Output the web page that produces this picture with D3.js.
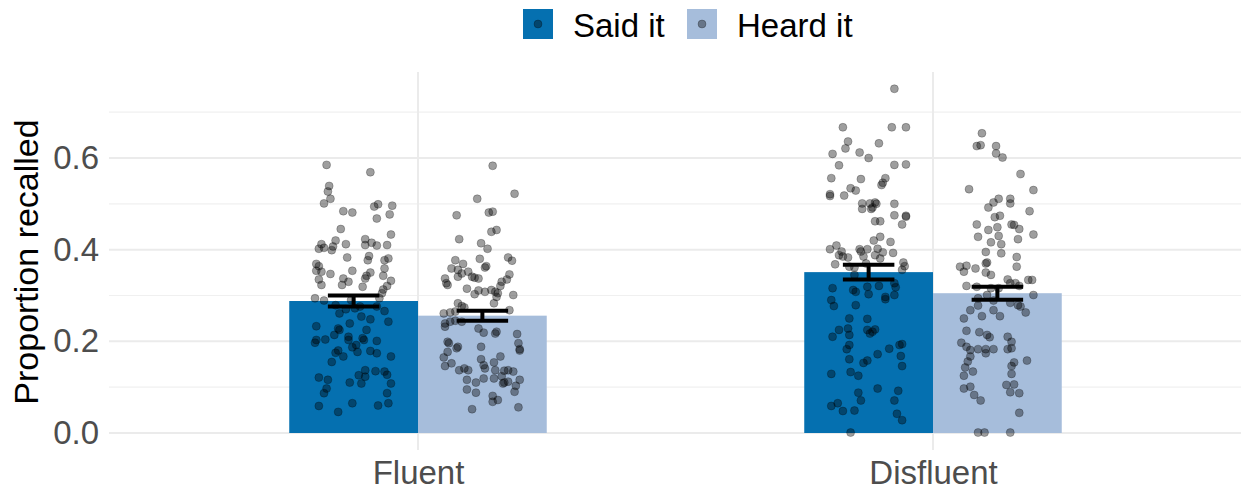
<!DOCTYPE html>
<html>
<head>
<meta charset="utf-8">
<script src="https://cdn.jsdelivr.net/npm/d3@7"></script>
<style>
  body { margin: 0; background: #fff; }
  text { font-family: "Liberation Sans", Arial, sans-serif; }
</style>
</head>
<body>
<div id="chart"></div>
<script>
// categories / groups
const conditions = ["Fluent", "Disfluent"]
const sources = ["Said it", "Heard it"]
const colors = ["#0570b0", "#a6bddb"]

// bar means and standard errors, per condition
const meanSaid = [0.288, 0.351]
const meanHeard = [0.256, 0.305]
const seSaid = [0.012, 0.016]
const seHeard = [0.011, 0.014]

// y ticks
const yTicks = [0, 0.2, 0.4, 0.6]
const yMinor = [0.1, 0.3, 0.5, 0.7]

// participant points: [proportion, jitter (fraction of bar width)]
const fluentSaid = [[0.585,-0.21],[0.569,0.13],[0.539,-0.19],[0.527,-0.20],[0.511,-0.18],[0.501,-0.23],[0.499,0.19],[0.494,0.16],[0.496,0.30],[0.484,-0.08],[0.481,-0.01],[0.477,0.28],[0.468,0.18],[0.445,-0.10],[0.433,0.29],[0.412,-0.25],[0.423,0.09],[0.415,0.14],[0.420,-0.14],[0.412,-0.06],[0.402,-0.27],[0.404,-0.23],[0.399,-0.17],[0.407,-0.16],[0.410,0.09],[0.409,0.18],[0.410,0.26],[0.383,-0.05],[0.386,0.12],[0.377,0.11],[0.377,0.24],[0.381,0.27],[0.369,-0.29],[0.364,-0.27],[0.354,-0.29],[0.352,-0.25],[0.347,-0.18],[0.354,-0.01],[0.350,0.13],[0.359,0.24],[0.343,0.23],[0.337,-0.08],[0.330,-0.04],[0.323,-0.09],[0.337,0.09],[0.343,0.10],[0.332,0.29],[0.335,-0.27],[0.323,-0.25],[0.319,0.07],[0.321,0.26],[0.313,0.23],[0.294,-0.30],[0.289,-0.23],[0.290,-0.02],[0.294,0.20],[0.305,0.22],[0.279,-0.14],[0.261,-0.11],[0.270,-0.06],[0.272,0.01],[0.276,0.05],[0.276,0.18],[0.266,0.24],[0.254,0.06],[0.248,0.13],[0.243,0.27],[0.239,-0.03],[0.233,-0.29],[0.228,-0.12],[0.225,-0.11],[0.214,-0.15],[0.225,0.10],[0.210,-0.04],[0.207,0.07],[0.203,0.08],[0.201,0.18],[0.203,-0.29],[0.204,-0.22],[0.197,-0.30],[0.192,0.02],[0.187,-0.01],[0.203,-0.04],[0.175,-0.14],[0.180,-0.12],[0.167,-0.08],[0.177,0.03],[0.179,0.13],[0.174,0.18],[0.167,0.29],[0.155,-0.17],[0.137,0.09],[0.135,0.17],[0.134,0.24],[0.127,0.26],[0.121,-0.27],[0.116,-0.20],[0.110,-0.03],[0.126,0.04],[0.108,0.06],[0.123,0.09],[0.108,0.29],[0.097,-0.21],[0.087,-0.23],[0.087,0.26],[0.059,-0.27],[0.046,-0.12],[0.065,-0.01],[0.060,0.19],[0.065,0.27]]

const fluentHeard = [[0.583,0.08],[0.522,0.25],[0.511,-0.04],[0.475,-0.20],[0.481,0.05],[0.483,0.08],[0.439,0.07],[0.443,0.11],[0.423,-0.18],[0.414,-0.01],[0.402,0.04],[0.377,-0.21],[0.369,-0.15],[0.359,-0.24],[0.356,-0.19],[0.348,-0.16],[0.352,-0.11],[0.380,-0.02],[0.364,0.03],[0.361,0.02],[0.383,0.20],[0.376,0.23],[0.341,-0.19],[0.341,-0.08],[0.339,-0.06],[0.337,-0.03],[0.337,-0.29],[0.327,-0.28],[0.323,-0.27],[0.346,0.21],[0.335,0.19],[0.330,0.15],[0.321,0.14],[0.315,-0.12],[0.303,-0.06],[0.311,-0.03],[0.308,0.02],[0.312,0.07],[0.308,0.10],[0.305,0.12],[0.297,0.11],[0.283,0.09],[0.301,0.24],[0.283,-0.19],[0.277,-0.16],[0.274,-0.14],[0.263,-0.25],[0.265,-0.21],[0.261,-0.30],[0.268,0.21],[0.243,-0.25],[0.245,-0.21],[0.239,-0.29],[0.232,-0.29],[0.243,-0.16],[0.228,-0.03],[0.219,0.01],[0.221,0.11],[0.217,0.10],[0.216,0.27],[0.199,-0.27],[0.196,-0.26],[0.188,-0.19],[0.185,-0.20],[0.188,-0.01],[0.196,0.28],[0.183,0.29],[0.180,0.29],[0.177,-0.27],[0.165,-0.30],[0.152,-0.24],[0.146,-0.29],[0.167,0.14],[0.161,-0.01],[0.148,0.01],[0.141,0.02],[0.154,0.09],[0.141,-0.14],[0.137,-0.18],[0.137,-0.11],[0.137,0.10],[0.136,0.17],[0.137,0.20],[0.134,0.24],[0.116,-0.12],[0.110,-0.05],[0.119,0.01],[0.119,0.09],[0.124,0.15],[0.108,0.16],[0.110,0.17],[0.112,0.20],[0.116,0.29],[0.103,0.26],[0.095,-0.12],[0.088,-0.05],[0.090,0.25],[0.081,0.08],[0.068,0.08],[0.072,0.12],[0.052,-0.08],[0.056,0.28]]

const disfluentSaid = [[0.751,0.20],[0.667,-0.20],[0.667,0.18],[0.667,0.29],[0.636,-0.16],[0.621,-0.18],[0.632,0.08],[0.609,-0.28],[0.612,-0.07],[0.600,0.00],[0.584,-0.23],[0.585,0.20],[0.586,0.29],[0.556,-0.29],[0.554,-0.06],[0.556,0.13],[0.546,0.11],[0.541,0.10],[0.534,-0.14],[0.529,-0.10],[0.521,-0.30],[0.517,-0.30],[0.518,-0.19],[0.501,-0.05],[0.501,0.01],[0.503,0.05],[0.500,0.06],[0.500,0.20],[0.489,-0.05],[0.489,0.02],[0.492,0.03],[0.475,0.20],[0.474,0.29],[0.472,0.29],[0.455,0.26],[0.462,0.05],[0.462,0.09],[0.428,0.09],[0.420,0.04],[0.417,0.17],[0.409,-0.25],[0.401,-0.30],[0.396,-0.21],[0.401,-0.07],[0.396,-0.06],[0.401,-0.01],[0.402,0.07],[0.394,0.11],[0.393,0.19],[0.388,-0.23],[0.385,-0.20],[0.383,-0.16],[0.385,-0.04],[0.388,0.05],[0.381,0.09],[0.368,-0.26],[0.363,-0.15],[0.361,-0.11],[0.370,-0.02],[0.372,0.27],[0.364,0.28],[0.356,0.26],[0.345,-0.11],[0.327,0.20],[0.318,0.21],[0.316,-0.28],[0.312,-0.12],[0.308,-0.10],[0.319,-0.01],[0.303,0.00],[0.321,0.08],[0.297,0.13],[0.292,0.13],[0.301,0.20],[0.290,-0.29],[0.277,-0.27],[0.279,-0.10],[0.250,-0.15],[0.249,-0.01],[0.225,-0.23],[0.228,-0.16],[0.214,-0.15],[0.225,-0.01],[0.217,0.01],[0.221,0.03],[0.226,0.05],[0.210,-0.28],[0.192,-0.15],[0.183,-0.17],[0.192,0.24],[0.194,0.26],[0.184,0.16],[0.172,0.07],[0.168,0.25],[0.161,-0.15],[0.153,-0.04],[0.158,-0.01],[0.146,0.26],[0.129,-0.29],[0.133,-0.14],[0.125,-0.08],[0.097,0.07],[0.088,-0.08],[0.071,-0.06],[0.092,0.23],[0.071,0.20],[0.059,-0.29],[0.065,-0.24],[0.048,-0.20],[0.049,-0.11],[0.042,0.22],[0.028,0.26],[0.001,-0.14]]

const disfluentHeard = [[0.654,-0.12],[0.626,-0.16],[0.628,-0.13],[0.626,-0.01],[0.610,-0.01],[0.601,0.04],[0.565,0.18],[0.532,-0.22],[0.530,0.28],[0.511,0.01],[0.511,0.10],[0.501,0.10],[0.503,-0.03],[0.492,-0.07],[0.484,0.25],[0.471,-0.02],[0.474,0.02],[0.455,-0.16],[0.455,0.11],[0.454,0.13],[0.443,-0.07],[0.449,0.00],[0.445,0.17],[0.428,-0.15],[0.430,0.01],[0.433,0.28],[0.416,-0.05],[0.412,0.03],[0.423,0.16],[0.395,-0.09],[0.392,0.03],[0.384,0.15],[0.363,-0.29],[0.352,-0.26],[0.365,-0.24],[0.359,-0.17],[0.370,-0.09],[0.372,-0.08],[0.363,0.15],[0.350,-0.09],[0.345,-0.05],[0.335,0.08],[0.327,0.10],[0.334,0.24],[0.334,0.27],[0.321,-0.24],[0.319,-0.16],[0.316,-0.05],[0.316,0.01],[0.327,0.14],[0.321,0.17],[0.301,0.28],[0.294,-0.15],[0.301,-0.08],[0.289,-0.03],[0.284,0.10],[0.279,0.16],[0.276,0.18],[0.268,-0.21],[0.278,-0.15],[0.268,-0.03],[0.263,0.22],[0.250,-0.26],[0.255,-0.12],[0.255,0.02],[0.223,-0.24],[0.220,-0.14],[0.214,-0.08],[0.209,-0.06],[0.210,0.08],[0.199,0.11],[0.197,-0.28],[0.188,-0.24],[0.181,-0.21],[0.183,-0.15],[0.174,-0.09],[0.183,-0.09],[0.183,-0.03],[0.183,0.08],[0.185,0.11],[0.158,0.23],[0.154,0.13],[0.146,0.11],[0.167,-0.21],[0.156,-0.23],[0.143,-0.25],[0.134,-0.19],[0.129,0.11],[0.125,-0.26],[0.101,-0.21],[0.097,-0.26],[0.105,0.07],[0.106,0.13],[0.089,0.10],[0.087,0.17],[0.083,-0.18],[0.071,-0.13],[0.044,0.17],[0.001,-0.15],[0.001,-0.10],[0.001,0.10]]

const fullWidth = 1241
const fullHeight = 495

const svg = d3.select("#chart")
    .append("svg")
    .attr("width", fullWidth)
    .attr("height", fullHeight)

// scales
const panel = { left: 109, right: 1242, top: 72, bottom: 450 }

const x = d3.scalePoint()
    .domain(conditions)
    .range([panel.left, panel.right])
    .padding(0.6)

const barW = x.step() * 0.25

const xSub = d3.scaleBand()
    .domain(sources)
    .range([-barW, barW])

const y = d3.scaleLinear()
    .domain([0, 0.6])
    .range([433, 158])

const color = d3.scaleOrdinal().domain(sources).range(colors)

// gridlines
const grid = svg.append("g").attr("class", "grid")

grid.selectAll(".minor")
    .data(yMinor)
    .enter().append("line")
    .attr("x1", panel.left).attr("x2", panel.right)
    .attr("y1", d => y(d)).attr("y2", d => y(d))
    .attr("stroke", "#f0f0f0")
    .attr("stroke-width", 1.1)

grid.selectAll(".major")
    .data(yTicks)
    .enter().append("line")
    .attr("x1", panel.left).attr("x2", panel.right)
    .attr("y1", d => y(d)).attr("y2", d => y(d))
    .attr("stroke", "#ebebeb")
    .attr("stroke-width", 2)

grid.selectAll(".vmajor")
    .data(conditions)
    .enter().append("line")
    .attr("x1", d => x(d)).attr("x2", d => x(d))
    .attr("y1", panel.top).attr("y2", panel.bottom)
    .attr("stroke", "#ebebeb")
    .attr("stroke-width", 2)

// bars
const bars = []
conditions.forEach((c, i) => {
    bars.push({ cond: c, src: sources[0], mean: meanSaid[i], se: seSaid[i] })
    bars.push({ cond: c, src: sources[1], mean: meanHeard[i], se: seHeard[i] })
})

svg.append("g")
    .selectAll("rect")
    .data(bars)
    .enter().append("rect")
    .attr("x", d => x(d.cond) + xSub(d.src))
    .attr("y", d => y(d.mean))
    .attr("width", xSub.bandwidth())
    .attr("height", d => y(0) - y(d.mean))
    .attr("fill", d => color(d.src))

// jittered points
const groups = [
    { cond: "Fluent", src: "Said it", pts: fluentSaid },
    { cond: "Fluent", src: "Heard it", pts: fluentHeard },
    { cond: "Disfluent", src: "Said it", pts: disfluentSaid },
    { cond: "Disfluent", src: "Heard it", pts: disfluentHeard }
]

const points = []
groups.forEach(g => g.pts.forEach(p => points.push({ cond: g.cond, src: g.src, v: p[0], j: p[1] })))

svg.append("g")
    .attr("class", "points")
    .selectAll("circle")
    .data(points)
    .enter().append("circle")
    .attr("cx", d => x(d.cond) + xSub(d.src) + xSub.bandwidth() / 2 + d.j * xSub.bandwidth())
    .attr("cy", d => y(d.v))
    .attr("r", 4)
    .attr("fill", "#000")
    .attr("fill-opacity", 0.38)
    .attr("stroke", "#000")
    .attr("stroke-opacity", 0.3)
    .attr("stroke-width", 0.8)

// error bars
const eb = svg.append("g").attr("class", "errorbars")
const capHalf = xSub.bandwidth() * 0.2

bars.forEach(d => {
    let cx = x(d.cond) + xSub(d.src) + xSub.bandwidth() / 2
    let lo = y(d.mean - d.se), hi = y(d.mean + d.se)
    eb.append("line").attr("x1", cx).attr("x2", cx).attr("y1", lo).attr("y2", hi)
    eb.append("line").attr("x1", cx - capHalf).attr("x2", cx + capHalf).attr("y1", lo).attr("y2", lo)
    eb.append("line").attr("x1", cx - capHalf).attr("x2", cx + capHalf).attr("y1", hi).attr("y2", hi)
})
eb.selectAll("line").attr("stroke", "#000").attr("stroke-width", 4)

// axes
const yAxis = svg.append("g")
    .attr("transform", "translate(" + panel.left + ",0)")
    .call(d3.axisLeft(y).tickValues(yTicks).tickFormat(d3.format(".1f")).tickSize(0).tickPadding(10))
yAxis.select(".domain").remove()
yAxis.selectAll("text")
    .attr("fill", "#4d4d4d")
    .style("font-size", "33px")
    .style("font-family", "Liberation Sans, Arial, sans-serif")

const xAxis = svg.append("g")
    .attr("transform", "translate(0," + panel.bottom + ")")
    .call(d3.axisBottom(x).tickSize(0).tickPadding(10.5))
xAxis.select(".domain").remove()
xAxis.selectAll("text")
    .attr("fill", "#4d4d4d")
    .style("font-size", "33px")
    .style("font-family", "Liberation Sans, Arial, sans-serif")

svg.append("text")
    .attr("transform", "translate(38,262) rotate(-90)")
    .attr("text-anchor", "middle")
    .attr("fill", "#000")
    .style("font-size", "34px")
    .text("Proportion recalled")

// legend
const legend = svg.append("g").attr("transform", "translate(523,9)")
const legendX = [0, 164]

sources.forEach((s, i) => {
    let g = legend.append("g").attr("transform", "translate(" + legendX[i] + ",0)")
    g.append("rect")
        .attr("width", 30).attr("height", 30)
        .attr("fill", color(s))
    g.append("circle")
        .attr("cx", 15).attr("cy", 15).attr("r", 4)
        .attr("fill", "#000").attr("fill-opacity", 0.38)
        .attr("stroke", "#000").attr("stroke-opacity", 0.3).attr("stroke-width", 0.8)
    g.append("text")
        .attr("x", 50).attr("y", 27.5)
        .attr("fill", "#000")
        .style("font-size", "33px")
        .text(s)
})
</script>
</body>
</html>
